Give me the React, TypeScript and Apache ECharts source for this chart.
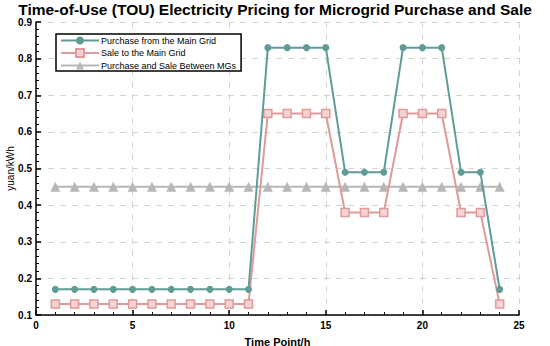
import React, { useEffect, useRef } from "react";
import * as echarts from "echarts";

const hours = [1, 2, 3, 4, 5, 6, 7, 8, 9, 10, 11, 12, 13, 14, 15, 16, 17, 18, 19, 20, 21, 22, 23, 24];
const purchaseMain = [0.17, 0.17, 0.17, 0.17, 0.17, 0.17, 0.17, 0.17, 0.17, 0.17, 0.17, 0.83, 0.83, 0.83, 0.83, 0.49, 0.49, 0.49, 0.83, 0.83, 0.83, 0.49, 0.49, 0.17];
const saleMain = [0.13, 0.13, 0.13, 0.13, 0.13, 0.13, 0.13, 0.13, 0.13, 0.13, 0.13, 0.65, 0.65, 0.65, 0.65, 0.38, 0.38, 0.38, 0.65, 0.65, 0.65, 0.38, 0.38, 0.13];
const betweenMGs = [0.45, 0.45, 0.45, 0.45, 0.45, 0.45, 0.45, 0.45, 0.45, 0.45, 0.45, 0.45, 0.45, 0.45, 0.45, 0.45, 0.45, 0.45, 0.45, 0.45, 0.45, 0.45, 0.45, 0.45];
const seriesNames = ["Purchase from the Main Grid", "Sale to the Main Grid", "Purchase and Sale Between MGs"];

const FONT = "'Liberation Sans', Arial, sans-serif";

export default function App() {
  const ref = useRef<HTMLDivElement>(null);
  useEffect(() => {
    if (!ref.current) return;
    const chart = echarts.init(ref.current, undefined, { renderer: "svg" });
    const pair = (arr: number[]) => arr.map((v, i) => [hours[i], v]);
    chart.setOption({
      animation: false,
      backgroundColor: "#ffffff",
      title: {
        text: "Time-of-Use (TOU) Electricity Pricing for Microgrid Purchase and Sale",
        left: "center",
        top: -1,
        padding: [2, 5, 0, 5],
        textStyle: { fontFamily: FONT, fontSize: 15.5, fontWeight: "bold", color: "#000", lineHeight: 16 },
      },
      grid: { left: 36, right: 31, top: 22, bottom: 31, containLabel: false, outerBoundsMode: "none" },
      legend: {
        data: seriesNames,
        orient: "vertical",
        left: 56,
        top: 34,
        itemGap: 3,
        itemWidth: 38,
        itemHeight: 10,
        padding: [2, 5, 1, 4],
        borderColor: "#000",
        borderWidth: 1.5,
        backgroundColor: "#fff",
        textStyle: { fontFamily: FONT, fontSize: 9, color: "#000", padding: [0, 0, 0, -3] },
      },
      xAxis: {
        type: "value",
        min: 0,
        max: 25,
        interval: 5,
        name: "Time Point/h",
        nameLocation: "middle",
        nameGap: 21,
        nameMoveOverlap: false,
        nameTextStyle: { fontFamily: FONT, fontSize: 11, fontWeight: "bold", color: "#000" },
        axisLine: { show: true, lineStyle: { color: "#000", width: 1.5 } },
        axisTick: { show: true, inside: true, length: 5, lineStyle: { color: "#000", width: 1.5 } },
        minorTick: { show: true, splitNumber: 5, length: 3, lineStyle: { color: "#000", width: 1 } },
        axisLabel: { fontFamily: FONT, fontSize: 10, fontWeight: "bold", color: "#000", margin: 5 },
        splitLine: { show: true, lineStyle: { color: "#d4d4d4", type: [6, 6], width: 1 } },
      },
      yAxis: {
        type: "value",
        min: 0.1,
        max: 0.9,
        interval: 0.1,
        name: "yuan/kWh",
        nameLocation: "middle",
        nameGap: 21,
        nameMoveOverlap: false,
        nameTextStyle: { fontFamily: FONT, fontSize: 10, color: "#000" },
        axisLine: { show: true, lineStyle: { color: "#000", width: 1.5 } },
        axisTick: { show: true, inside: true, length: 5, lineStyle: { color: "#000", width: 1.5 } },
        minorTick: { show: true, splitNumber: 5, length: 3, lineStyle: { color: "#000", width: 1 } },
        axisLabel: {
          fontFamily: FONT,
          fontSize: 10,
          fontWeight: "bold",
          color: "#000",
          margin: 4,
          formatter: (v: number) => v.toFixed(1),
        },
        splitLine: { show: true, lineStyle: { color: "#d4d4d4", type: [6, 6], width: 1 } },
      },
      series: [
        {
          name: seriesNames[0],
          type: "line",
          data: pair(purchaseMain),
          symbol: "circle",
          symbolSize: 7,
          lineStyle: { color: "#5f9c98", width: 2 },
          itemStyle: { color: "#5f9c98" },
          z: 3,
        },
        {
          name: seriesNames[1],
          type: "line",
          data: pair(saleMain),
          symbol: "rect",
          symbolSize: 8,
          lineStyle: { color: "#e09a9a", width: 2 },
          itemStyle: { color: "#f6d4d4", borderColor: "#e09a9a", borderWidth: 1.5 },
          z: 2,
        },
        {
          name: seriesNames[2],
          type: "line",
          data: pair(betweenMGs),
          symbol: "triangle",
          symbolSize: 10,
          lineStyle: { color: "#b7b7b7", width: 2 },
          itemStyle: { color: "#b7b7b7" },
          z: 1,
        },
      ],
    });
    return () => chart.dispose();
  }, []);
  return <div ref={ref} style={{ width: 550, height: 346, position: "absolute", left: 0, top: 0 }} />;
}
